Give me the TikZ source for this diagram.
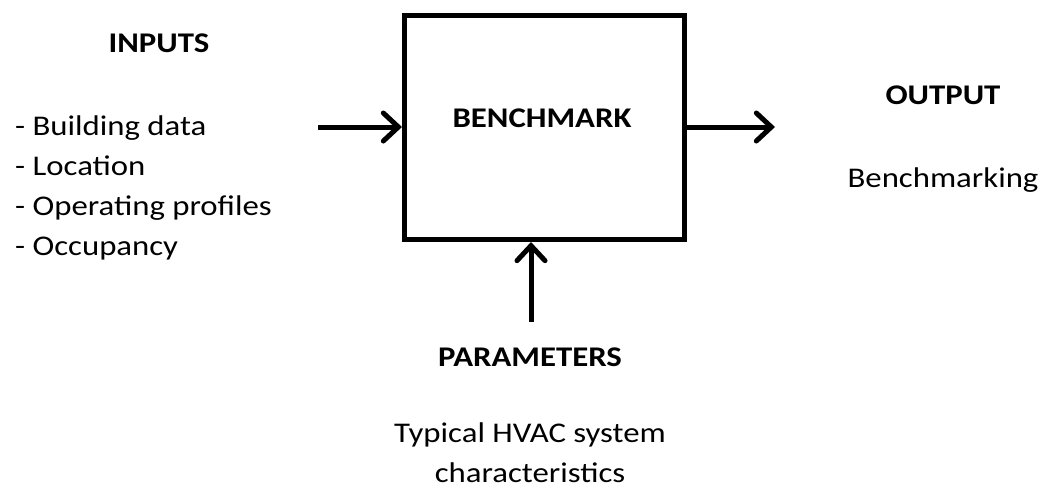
\documentclass[tikz,border=0pt]{standalone}
\usepackage{fontspec}
\setmainfont{Carlito}[FakeStretch=1.15]
\usetikzlibrary{arrows.meta}
\begin{document}
\begin{tikzpicture}[x=1pt,y=-1pt,
  label/.style={inner sep=0pt, font=\fontsize{28.5}{40}\selectfont},
  heading/.style={label, font=\fontsize{28.5}{40}\selectfont\bfseries},
  flow/.style={line width=5pt, -{Straight Barb[length=15pt,width=28pt,line cap=round]}},
  blockbox/.style={draw, line width=5pt, minimum width=280pt, minimum height=224pt, inner sep=0pt}]
\useasboundingbox[fill=white] (0,0) rectangle (1045,493);

% central block
\node[blockbox] (bench) at (544.5,127.5) {};
\node[heading] (benchtxt) at (542,118) {BENCHMARK};

% inputs
\node[heading] (inputs) at (159,43) {INPUTS};
\node[label, anchor=west, align=left] (inlist) at (15,188)
  {- Building data\\- Location\\- Operating profiles\\- Occupancy};
\coordinate (instart) at (318,127);

% output
\node[heading] (output) at (943,95) {OUTPUT};
\node[label] (outtxt) at (943,180) {Benchmarking};
\coordinate (outend) at (775,127);

% parameters
\node[heading] (params) at (530,357) {PARAMETERS};
\node[label, align=center] (paramtxt) at (530,453) {Typical HVAC system\\characteristics};
\coordinate (parstart) at (531,322);

% connectors
\draw[flow] (instart) -- (instart -| bench.west);
\draw[flow] (bench.east |- outend) -- (outend);
\draw[flow] (parstart) -- (parstart |- bench.south);
\end{tikzpicture}
\end{document}
